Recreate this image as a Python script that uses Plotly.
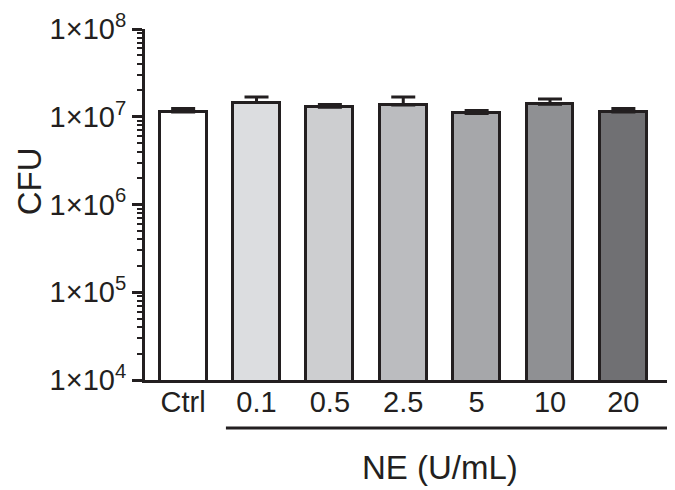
import plotly.graph_objects as go

# groups and values (CFU, log axis)
GROUPS = ['Ctrl', '0.1', '0.5', '2.5', '5', '10', '20']
CFU = [1.135e7, 1.45e7, 1.28e7, 1.36e7, 1.09e7, 1.39e7, 1.135e7]
SEM = [0.105e7, 0.23e7, 0.10e7, 0.32e7, 0.085e7, 0.20e7, 0.105e7]
FILLS = ['#ffffff', '#dcdde0', '#cdced0', '#bbbcbf', '#a6a7aa', '#8f9093', '#707073']

Y_TICKS = [1e4, 1e5, 1e6, 1e7, 1e8]
Y_LABELS = ['1×10<sup>4</sup>', '1×10<sup>5</sup>', '1×10<sup>6</sup>',
            '1×10<sup>7</sup>', '1×10<sup>8</sup>']

INK = '#231f20'
FONT = 'Liberation Sans, Arial, sans-serif'

fig = go.Figure()
fig.add_trace(go.Bar(
  x = GROUPS, y = CFU, width = 0.64,
  marker = dict(color = FILLS, line = dict(color = INK, width = 3)),
  error_y = dict(type = 'data', array = SEM, symmetric = False, arrayminus = [0] * len(SEM),
                 color = INK, thickness = 3, width = 12),
))

#page body has an 8px margin, so the figure is 8px smaller than the window
fig.update_layout(
  width = 667, height = 482,
  margin = dict(l = 137, r = 1, t = 21, b = 110),
  plot_bgcolor = 'white', paper_bgcolor = 'white',
  font = dict(family = FONT, color = INK, size = 29),
  showlegend = False,
  bargap = 0,
)

fig.update_xaxes(
  range = [-0.52, 6.69], showgrid = False, zeroline = False,
  showline = True, linecolor = INK, linewidth = 3,
  ticks = '', tickfont = dict(size = 29), ticklabelstandoff = -6,
)

fig.update_yaxes(
  type = 'log', range = [4, 8], showgrid = False, zeroline = False,
  showline = True, linecolor = INK, linewidth = 3,
  tickmode = 'array', tickvals = Y_TICKS, ticktext = Y_LABELS,
  ticks = 'outside', ticklen = 10, tickwidth = 3, tickcolor = INK,
  tickfont = dict(size = 29),
  minor = dict(ticks = 'outside', ticklen = 5, tickwidth = 2, tickcolor = INK,
               dtick = 'D1', showgrid = False),
)

#Axis title and group label drawn as annotations so they sit where the original has them
fig.add_annotation(text = 'CFU', x = -0.218, y = 0.565, xref = 'paper', yref = 'paper',
                   xanchor = 'center', yanchor = 'middle',
                   showarrow = False, textangle = -90, font = dict(size = 33))

fig.add_shape(type = 'line', xref = 'paper', yref = 'paper',
              x0 = 0.153, x1 = 1.0, y0 = -0.137, y1 = -0.137,
              line = dict(color = INK, width = 3))
fig.add_annotation(text = 'NE (U/mL)', x = 0.558, y = -0.25, xref = 'paper', yref = 'paper',
                   showarrow = False, xanchor = 'center', yanchor = 'middle', font = dict(size = 33))

fig.write_html('out.html')
